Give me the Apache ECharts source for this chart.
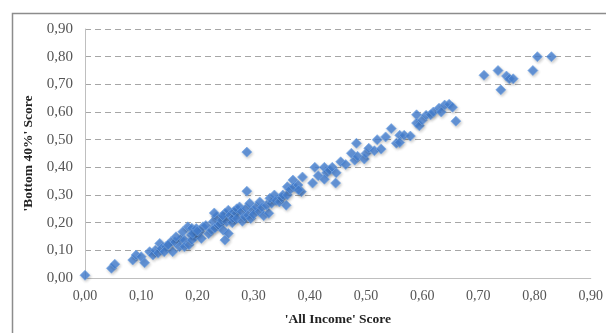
<!DOCTYPE html>
<html>
<head>
<meta charset="utf-8">
<script src="https://cdn.jsdelivr.net/npm/echarts@6/dist/echarts.min.js"></script>
<style>
  html, body { margin: 0; padding: 0; background: #fff; }
  #chart { width: 606px; height: 333px; }
</style>
</head>
<body>
<div id="chart"></div>
<script>
// Scores per observation: 'All Income' (x) against 'Bottom 40%' (y)
const allIncome = [
  0.00,
  0.047, 0.053,
  0.085, 0.091, 0.100, 0.106, 0.115, 0.121, 0.125, 0.130,
  0.133, 0.136, 0.144, 0.141, 0.153, 0.156, 0.148, 0.160, 0.170,
  0.162, 0.168, 0.174, 0.177, 0.183, 0.189, 0.177, 0.185, 0.190, 0.196,
  0.190, 0.192, 0.198, 0.204, 0.207, 0.210, 0.200, 0.215, 0.220,
  0.225, 0.228, 0.231, 0.234, 0.237, 0.240, 0.243, 0.246, 0.249, 0.252, 0.255, 0.249, 0.230, 0.245, 0.255,
  0.258, 0.262, 0.263, 0.265, 0.269, 0.270, 0.270, 0.275, 0.278, 0.280, 0.284, 0.287, 0.290, 0.293, 0.295,
  0.299, 0.300, 0.305, 0.310, 0.311, 0.315, 0.318, 0.327, 0.323, 0.332, 0.329, 0.337, 0.340,
  0.346, 0.350, 0.352, 0.358, 0.360, 0.360, 0.365, 0.370, 0.372, 0.379, 0.385,
  0.288, 0.288,
  0.380, 0.387, 0.405, 0.409, 0.415, 0.426, 0.430, 0.426, 0.435, 0.440, 0.447, 0.446,
  0.455, 0.464, 0.474, 0.480, 0.485, 0.497, 0.483, 0.500, 0.505, 0.515, 0.520, 0.527,
  0.535, 0.545, 0.554, 0.560, 0.568, 0.579, 0.560,
  0.590, 0.590, 0.595, 0.600, 0.607, 0.615, 0.620, 0.630, 0.634, 0.640, 0.648, 0.654, 0.660,
  0.710, 0.735, 0.740, 0.750, 0.755, 0.762, 0.797, 0.805, 0.830
];
const bottom40 = [
  0.01,
  0.035, 0.050,
  0.065, 0.083, 0.077, 0.055, 0.095, 0.083, 0.100, 0.090,
  0.125, 0.107, 0.113, 0.095, 0.131, 0.095, 0.120, 0.130, 0.140,
  0.149, 0.113, 0.167, 0.137, 0.185, 0.155, 0.113, 0.120, 0.180, 0.150,
  0.137, 0.161, 0.179, 0.167, 0.143, 0.185, 0.170, 0.190, 0.160,
  0.173, 0.203, 0.180, 0.221, 0.191, 0.195, 0.209, 0.173, 0.234, 0.203, 0.161, 0.137, 0.235, 0.225, 0.245,
  0.227, 0.200, 0.216, 0.240, 0.234, 0.215, 0.250, 0.257, 0.240, 0.205, 0.221, 0.252, 0.227, 0.270, 0.215,
  0.245, 0.230, 0.257, 0.240, 0.275, 0.255, 0.225, 0.234, 0.263, 0.270, 0.288, 0.300, 0.280,
  0.275, 0.290, 0.300, 0.263, 0.300, 0.330, 0.320, 0.354, 0.330, 0.336, 0.312,
  0.314, 0.455,
  0.318, 0.365, 0.343, 0.400, 0.370, 0.400, 0.380, 0.357, 0.390, 0.400, 0.380, 0.343,
  0.420, 0.410, 0.451, 0.426, 0.440, 0.430, 0.487, 0.450, 0.469, 0.460, 0.500, 0.466,
  0.510, 0.540, 0.487, 0.516, 0.516, 0.513, 0.490,
  0.590, 0.560, 0.550, 0.570, 0.588, 0.590, 0.600, 0.614, 0.600, 0.625, 0.628, 0.617, 0.567,
  0.733, 0.750, 0.680, 0.730, 0.720, 0.720, 0.750, 0.800, 0.800
];
const tickValues = [0, 0.1, 0.2, 0.3, 0.4, 0.5, 0.6, 0.7, 0.8, 0.9];
const xTitle = "'All Income' Score";
const yTitle = "'Bottom 40%' Score";

const points = allIncome.map((x, i) => [x, bottom40[i]]);
const fmt = v => v.toFixed(2).replace('.', ',');
const serif = "'Liberation Serif', 'DejaVu Serif', serif";

const chart = echarts.init(document.getElementById('chart'), null, { renderer: 'canvas' });
chart.setOption({
  animation: false,
  backgroundColor: '#ffffff',
  graphic: [{
    type: 'rect',
    shape: { x: 12.5, y: 13.5, width: 700, height: 400 },
    style: { fill: 'none', stroke: '#8c8c8c', lineWidth: 1.5 },
    silent: true
  }],
  grid: { left: 85, right: 15, top: 29, bottom: 55 },
  xAxis: {
    type: 'value',
    min: tickValues[0],
    max: tickValues[tickValues.length - 1],
    interval: 0.1,
    name: xTitle,
    nameLocation: 'middle',
    nameGap: 35,
    nameTextStyle: { fontFamily: serif, fontWeight: 'bold', fontSize: 13.5, color: '#222' },
    axisLine: { show: true, lineStyle: { color: '#bfbfbf', width: 1 } },
    axisTick: { show: false },
    splitLine: { show: false },
    axisLabel: { formatter: fmt, fontFamily: serif, fontSize: 14, color: '#555', margin: 11 }
  },
  yAxis: {
    type: 'value',
    min: tickValues[0],
    max: tickValues[tickValues.length - 1],
    interval: 0.1,
    name: yTitle,
    nameLocation: 'middle',
    nameGap: 48,
    nameTextStyle: { fontFamily: serif, fontWeight: 'bold', fontSize: 13.5, color: '#222' },
    axisLine: { show: true, lineStyle: { color: '#bfbfbf', width: 1 } },
    axisTick: { show: false },
    splitLine: { show: true, lineStyle: { color: '#a6a6a6', type: [6, 4], width: 1 } },
    axisLabel: { formatter: fmt, fontFamily: serif, fontSize: 15, color: '#555', margin: 12 }
  },
  series: [{
    type: 'scatter',
    data: points,
    symbol: 'diamond',
    symbolSize: 10,
    itemStyle: {
      color: '#4682d6',
      borderColor: '#78a8e6',
      borderWidth: 0.8,
      shadowBlur: 3,
      shadowColor: 'rgba(0,0,0,0.25)',
      shadowOffsetX: 1,
      shadowOffsetY: 1.5
    }
  }]
});
</script>
</body>
</html>
